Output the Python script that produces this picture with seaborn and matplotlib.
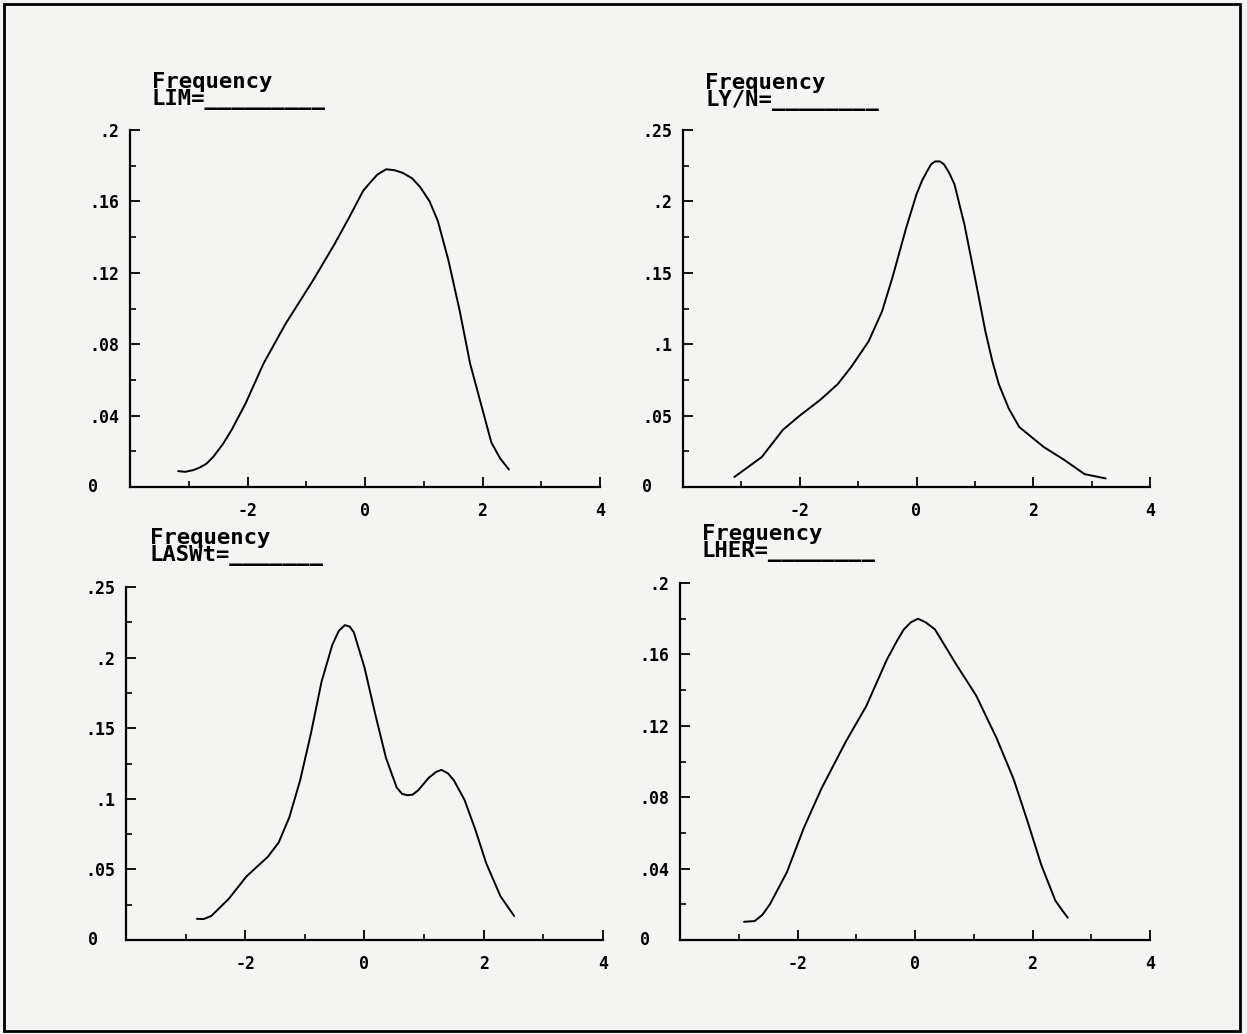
import numpy as np
import pandas as pd
import matplotlib
matplotlib.use("Agg")
import matplotlib.pyplot as plt
import seaborn as sns
from matplotlib.patches import Rectangle
from matplotlib.ticker import MultipleLocator

# ---------------- data ----------------
lim_x = [-3.18, -3.06, -2.92, -2.82, -2.70, -2.58, -2.42, -2.27, -2.03, -1.73, -1.36, -0.88,
         -0.52, -0.27, -0.03, 0.10, 0.21, 0.36, 0.50, 0.64, 0.80, 0.94, 1.10, 1.24, 1.42, 1.61,
         1.79, 1.97, 2.15, 2.30, 2.45]
lim_y = [0.0089, 0.0085, 0.0095, 0.0108, 0.013, 0.017, 0.024, 0.032, 0.047, 0.069, 0.091, 0.116,
         0.136, 0.151, 0.166, 0.171, 0.175, 0.178, 0.1775, 0.176, 0.173, 0.168, 0.160, 0.149,
         0.127, 0.099, 0.069, 0.047, 0.025, 0.016, 0.0098]

lyn_x = [-3.12, -2.65, -2.29, -2.00, -1.65, -1.35, -1.12, -0.82, -0.59, -0.41, -0.18, 0.00,
         0.10, 0.18, 0.25, 0.32, 0.40, 0.47, 0.56, 0.65, 0.82, 1.00, 1.18, 1.30, 1.41, 1.58,
         1.76, 2.18, 2.53, 2.88, 3.24]
lyn_y = [0.007, 0.021, 0.040, 0.050, 0.061, 0.072, 0.084, 0.102, 0.123, 0.147, 0.181, 0.205,
         0.215, 0.221, 0.226, 0.228, 0.228, 0.226, 0.220, 0.212, 0.184, 0.147, 0.109, 0.088,
         0.072, 0.055, 0.042, 0.028, 0.019, 0.009, 0.006]

lasw_x = [-2.81, -2.70, -2.57, -2.28, -1.98, -1.62, -1.44, -1.26, -1.08, -0.90, -0.72, -0.54,
          -0.43, -0.33, -0.25, -0.18, 0.00, 0.18, 0.36, 0.54, 0.63, 0.72, 0.81, 0.90, 1.08, 1.20,
          1.29, 1.40, 1.50, 1.68, 1.86, 2.04, 2.28, 2.51]
lasw_y = [0.015, 0.0148, 0.017, 0.029, 0.045, 0.059, 0.069, 0.087, 0.113, 0.146, 0.183, 0.209,
          0.219, 0.223, 0.222, 0.218, 0.193, 0.160, 0.129, 0.108, 0.1035, 0.1025, 0.103, 0.106,
          0.115, 0.119, 0.1205, 0.118, 0.113, 0.099, 0.078, 0.0545, 0.031, 0.017]

lher_x = [-2.91, -2.73, -2.60, -2.47, -2.18, -1.89, -1.59, -1.18, -0.83, -0.48, -0.30, -0.19,
          -0.07, 0.05, 0.18, 0.34, 0.69, 1.04, 1.39, 1.68, 1.92, 2.15, 2.39, 2.52, 2.60]
lher_y = [0.0102, 0.0106, 0.014, 0.020, 0.038, 0.063, 0.085, 0.111, 0.131, 0.157, 0.168, 0.174,
          0.178, 0.180, 0.178, 0.174, 0.155, 0.137, 0.113, 0.090, 0.066, 0.042, 0.022, 0.016,
          0.0125]

panel_names = ["LIM=", "LY/N=", "LASWt=", "LHER="]
underline_counts = [9, 8, 7, 8]
y_max = [0.2, 0.25, 0.25, 0.2]
y_major = [0.04, 0.05, 0.05, 0.04]
x_tick_vals = [-4, -2, 0, 2, 4]
x_tick_labels = ["", "-2", "0", "2", "4"]

# ---------------- style ----------------
sns.set_style("white")
plt.rcParams['font.family'] = ['DejaVu Sans Mono', 'DejaVu Sans']
plt.rcParams['font.weight'] = 'bold'

W, H = 1247, 1034
fig = plt.figure(figsize=(W / 100, H / 100), dpi=100)
bg = '#f4f4f3'
fig.patch.set_facecolor(bg)

# axes rectangles in pixels: left, right, top, bottom
rects_px = [(130, 600, 130, 487), (683, 1150, 130, 487),
            (126, 603, 587, 940), (680, 1150, 583, 940)]
title_px = [(152, 91), (705, 92), (150, 547), (702, 543)]
zero_off = [-42, -41, -38, -40]

series = [(lim_x, lim_y), (lyn_x, lyn_y), (lasw_x, lasw_y), (lher_x, lher_y)]

for i, (xs, ys) in enumerate(series):
    l, r, t, b = rects_px[i]
    ax = fig.add_axes([l / W, 1 - b / H, (r - l) / W, (b - t) / H])
    ax.set_facecolor('none')
    df = pd.DataFrame({"x": xs, "y": ys})
    sns.lineplot(data=df, x="x", y="y", ax=ax, color='black', linewidth=1.4,
                 sort=False, estimator=None)
    ax.set_xlim(-4, 4)
    ax.set_ylim(0, y_max[i])
    ax.set_xlabel("")
    ax.set_ylabel("")
    for s in ['top', 'right']:
        ax.spines[s].set_visible(False)
    for s in ['left', 'bottom']:
        ax.spines[s].set_color('black')
        ax.spines[s].set_linewidth(1.6)

    ax.tick_params(which='both', bottom=True, left=True, top=False, right=False)
    ax.tick_params(which='major', direction='in', length=7, width=1.3, color='black',
                   labelsize=12, labelcolor='black')
    ax.tick_params(which='minor', direction='in', length=4, width=1.2, color='black')
    ax.tick_params(axis='y', which='major', pad=8)
    ax.tick_params(axis='x', which='major', pad=11)

    yt = np.round(np.arange(0, y_max[i] + 1e-9, y_major[i]), 3)
    ax.set_yticks(yt)
    ax.set_yticklabels(["" if v == 0 else f"{v:g}".lstrip('0') for v in yt],
                       fontweight='bold', fontsize=12)
    ax.yaxis.set_minor_locator(MultipleLocator(y_major[i] / 2))
    ax.set_xticks(x_tick_vals)
    ax.set_xticklabels(x_tick_labels, fontweight='bold', fontsize=12)
    ax.xaxis.set_minor_locator(MultipleLocator(1))

    ax.annotate("0", xy=(0, 0), xycoords='axes fraction', xytext=(zero_off[i], 0),
                textcoords='offset pixels', ha='left', va='center', fontsize=12,
                fontweight='bold', color='black')

    tx, ty = title_px[i]
    fig.text(tx / W, 1 - ty / H,
             "Frequency\n" + panel_names[i] + "_" * underline_counts[i],
             fontsize=16, fontweight='bold', ha='left', va='center', color='black',
             linespacing=0.85)

fig.add_artist(Rectangle((4 / W, 3 / H), (1240 - 4) / W, (1031 - 4) / H,
                         transform=fig.transFigure, fill=False, lw=2, ec='black'))

fig.savefig("out.png", dpi=100, facecolor=bg)
